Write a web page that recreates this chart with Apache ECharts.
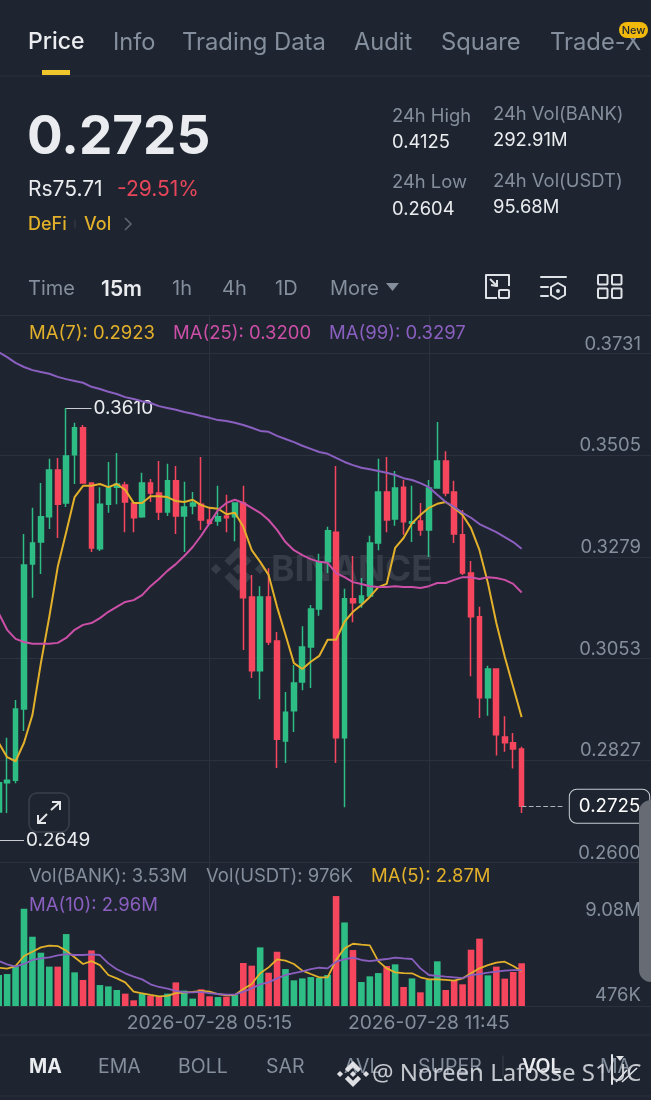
<!DOCTYPE html>
<html><head><meta charset="utf-8">
<style>html,body{margin:0;padding:0;background:#1e2530}#c{width:651px;height:1100px}</style>
<script src="https://cdn.jsdelivr.net/npm/echarts@6/dist/echarts.min.js"></script>
</head><body><div id="c"></div>
<script>
const times=["23:00","23:15","23:30","23:45","00:00","00:15","00:30","00:45","01:00","01:15","01:30","01:45","02:00","02:15","02:30","02:45","03:00","03:15","03:30","03:45","04:00","04:15","04:30","04:45","05:00","05:15","05:30","05:45","06:00","06:15","06:30","06:45","07:00","07:15","07:30","07:45","08:00","08:15","08:30","08:45","09:00","09:15","09:30","09:45","10:00","10:15","10:30","10:45","11:00","11:15","11:30","11:45","12:00","12:15","12:30","12:45","13:00","13:15","13:30","13:45","14:00","14:15","14:30","14:45","15:00","15:15","15:30","15:45","16:00","16:15","16:30","16:45","17:00","17:15","17:30","17:45","18:00","18:15","18:30"];
const opens=[.2712,.2777,.2783,.2941,.3263,.3312,.3368,.3472,.3399,.3506,.3566,.3443,.3297,.3396,.3434,.3439,.3399,.3368,.3443,.3421,.3379,.3448,.3370,.3392,.3396,.3361,.3359,.3370,.3368,.3399,.3190,.3026,.3190,.3092,.2870,.2937,.3001,.3079,.3163,.3268,.3334,.2877,.3186,.3177,.3192,.3310,.3423,.3363,.3434,.3354,.3359,.3339,.3432,.3492,.3423,.3328,.3243,.3146,.2966,.3030,.2879,.2866,.2852];
const closes=[.2777,.2783,.2941,.3261,.3310,.3368,.3472,.3396,.3503,.3566,.3443,.3299,.3396,.3434,.3441,.3401,.3366,.3443,.3421,.3379,.3448,.3370,.3390,.3399,.3361,.3354,.3368,.3366,.3399,.3188,.3026,.3190,.3090,.2874,.2934,.2999,.3079,.3163,.3268,.3337,.2877,.3186,.3177,.3192,.3310,.3423,.3361,.3432,.3357,.3357,.3339,.3432,.3492,.3421,.3330,.3243,.3146,.2966,.3030,.2884,.2866,.2852,.2725];
const lows=[.2706,.2710,.2776,.2892,.3188,.3241,.3341,.3321,.3390,.3441,.3443,.3290,.3292,.3377,.3396,.3334,.3334,.3366,.3401,.3361,.3370,.3330,.3290,.3374,.3339,.3350,.3348,.3334,.3314,.3072,.3010,.2963,.3083,.2810,.2821,.2890,.2983,.2988,.3148,.3243,.2821,.2723,.3134,.3166,.3190,.3294,.3334,.3348,.3328,.3312,.3326,.3279,.3432,.3414,.3310,.3239,.3014,.2921,.2926,.2838,.2846,.2809,.2710];
const highs=[.2783,.2877,.2961,.3330,.3388,.3443,.3497,.3499,.3610,.3577,.3572,.3443,.3434,.3490,.3510,.3446,.3401,.3466,.3452,.3492,.3486,.3481,.3446,.3423,.3501,.3388,.3437,.3417,.3399,.3437,.3239,.3214,.3254,.3112,.2979,.3039,.3125,.3172,.3286,.3346,.3481,.3208,.3281,.3232,.3326,.3497,.3501,.3470,.3450,.3437,.3399,.3450,.3579,.3514,.3448,.3383,.3270,.3168,.3037,.3030,.2925,.2888,.2857];
const ma7=[.2866,.2834,.2825,.2866,.2928,.3043,.3146,.3257,.3334,.3412,.3437,.3437,.3441,.3434,.3441,.3428,.3399,.3399,.3414,.3414,.3412,.3403,.3401,.3406,.3394,.3388,.3386,.3374,.3377,.3346,.3294,.3268,.3239,.3168,.3106,.3043,.3030,.3046,.3059,.3095,.3095,.3135,.3157,.3172,.3190,.3212,.3219,.3299,.3321,.3354,.3372,.3388,.3397,.3401,.3388,.3372,.3343,.3294,.3221,.3132,.3057,.2990,.2923];
const ma25=[.3154,.3117,.3097,.3090,.3086,.3086,.3086,.3088,.3099,.3117,.3128,.3132,.3143,.3157,.3168,.3179,.3183,.3194,.3214,.3230,.3248,.3263,.3281,.3301,.3326,.3354,.3383,.3399,.3406,.3399,.3388,.3377,.3361,.3339,.3312,.3294,.3283,.3274,.3268,.3266,.3243,.3234,.3223,.3219,.3214,.3212,.3212,.3214,.3212,.3212,.3210,.3214,.3221,.3221,.3228,.3234,.3234,.3230,.3234,.3232,.3228,.3219,.3200];
const ma99=[.3734,.3723,.3710,.3701,.3694,.3690,.3686,.3679,.3674,.3670,.3666,.3657,.3652,.3646,.3641,.3634,.3630,.3625,.3621,.3614,.3610,.3606,.3601,.3597,.3592,.3588,.3583,.3581,.3577,.3572,.3566,.3559,.3557,.3548,.3541,.3534,.3526,.3519,.3512,.3508,.3499,.3490,.3483,.3477,.3474,.3470,.3466,.3461,.3454,.3450,.3443,.3434,.3417,.3401,.3390,.3377,.3366,.3352,.3343,.3334,.3323,.3312,.3297];
const volumes=[2.56,2.64,3.25,8.03,5.72,4.40,3.25,3.25,5.94,2.78,2.15,4.59,1.73,1.62,1.32,1.02,.47,.99,.85,.77,1.02,1.95,1.27,.61,1.38,.80,.74,.77,.91,3.55,3.33,4.84,2.75,4.48,3.05,2.12,2.28,2.39,2.31,2.56,9.08,6.90,4.62,1.98,2.45,2.72,3.30,3.44,1.57,2.28,1.13,2.15,3.69,1.32,2.09,1.79,4.65,5.56,2.53,3.25,2.26,2.81,3.53];
const volMa5=[3.16,3.08,3.30,4.13,4.48,4.84,4.98,4.95,4.57,4.02,3.47,3.71,3.38,2.56,2.28,1.95,1.18,1.05,.91,.80,.83,1.07,1.10,1.16,1.24,1.18,.99,.88,.91,1.40,1.82,2.70,3.19,3.85,3.74,3.47,2.92,2.64,2.37,2.37,3.80,4.76,5.14,5.06,5.01,3.71,3.11,2.78,2.72,2.70,2.37,2.20,2.20,2.15,2.09,2.28,2.70,3.11,3.38,3.58,3.66,3.30,2.87];
const volMa10=[3.71,3.44,3.25,3.47,3.80,3.93,4.02,4.18,4.29,4.21,4.21,4.26,4.21,3.52,3.03,2.70,2.42,2.20,1.79,1.57,1.43,1.24,1.13,1.13,1.16,1.07,.99,.94,.94,1.18,1.46,1.79,1.95,2.28,2.56,2.72,2.86,3.05,3.16,3.11,3.66,3.85,3.99,3.80,3.71,3.80,3.88,3.99,3.93,3.88,3.11,2.56,2.48,2.42,2.37,2.31,2.56,2.64,2.75,2.83,2.92,2.97,2.96];
const priceTicks=[0.2600,0.2827,0.3053,0.3279,0.3505,0.3731];
const timeTickIdx=[25,51];
const lastPrice=0.2725, visHigh=0.3610, visLow=0.2649;

const BG='#1e2530',GRID='#2c323d',GRAY='#848e9c',WHITE='#eaecef',YEL='#e2b02a',PINK='#cb4fa6',PUR='#8a5fbf',GREEN='#2ebd85',RED='#f6465d';
const FF='Inter, "Noto Sans", sans-serif';
const g=[];
function T(text,x,y,size,fill,weight,align,z,family,opacity){g.push({type:'text',z:z||10,silent:true,style:{text,x,y:y+size*0.06,fill,font:(weight||400)+' '+size+'px '+(family||FF),textAlign:align||'left',textVerticalAlign:'middle',align:align||'left',verticalAlign:'middle',opacity:opacity==null?1:opacity}});}
function L(x1,y1,x2,y2,stroke,w,z){g.push({type:'line',z:z||10,silent:true,shape:{x1,y1,x2,y2},style:{stroke,lineWidth:w||1,lineCap:'round',fill:null}});}
function R(x,y,width,height,r,style,z){g.push({type:'rect',z:z||10,silent:true,shape:{x,y,width,height,r},style});}
function P(points,style,z,closed){g.push({type:closed===false?'polyline':'polygon',z:z||10,silent:true,shape:{points},style});}
function logo(cx,cy,s,fill,z,op){
 const d=(x,y,r)=>P([[cx+x,cy+y-r],[cx+x+r,cy+y],[cx+x,cy+y+r],[cx+x-r,cy+y]],{fill,opacity:op},z);
 d(-s,0,.24*s);d(s,0,.24*s);d(0,0,.24*s);
 P([[cx,cy-s],[cx+.62*s,cy-.38*s],[cx+.38*s,cy-.14*s],[cx,cy-.52*s],[cx-.38*s,cy-.14*s],[cx-.62*s,cy-.38*s]],{fill,opacity:op},z);
 P([[cx,cy+s],[cx+.62*s,cy+.38*s],[cx+.38*s,cy+.14*s],[cx,cy+.52*s],[cx-.38*s,cy+.14*s],[cx-.62*s,cy+.38*s]],{fill,opacity:op},z);
}
// top tabs
T('Price',28,41,23,WHITE,500);T('Info',113,41,23.6,GRAY);T('Trading Data',182,41,23.8,GRAY);T('Audit',354,41,23.6,GRAY);T('Square',441,41,23.8,GRAY);T('Trade-X',550,41,23.8,GRAY);
R(619,22,29,16,8,{fill:'#f0b90b'});T('New',633.5,30,11,'#1e2530',500,'center');
R(42,70,28,5,0,{fill:'#f0c62d'});L(0,76,651,76,GRID,1);
// price block
T('0.2725',27,135,53,WHITE,700);T('Rs75.71',28,188,21,WHITE);T('-29.51%',117,188,21,'#e8465a');
T('DeFi',28,224,18,YEL,500);L(75,220,75,228,'#3a404b',1);T('Vol',84,224,18,YEL,500);
P([[125,218],[131,224],[125,230]],{stroke:'#5f6875',lineWidth:1.5,fill:null},10,false);
T('24h High',392,115,18.4,GRAY);T('0.4125',392,141,18.4,WHITE);T('24h Low',392,181,18.4,GRAY);T('0.2604',392,208,18.4,WHITE);
T('24h Vol(BANK)',493,113,18.4,GRAY);T('292.91M',493,139,18.4,WHITE);T('24h Vol(USDT)',493,180,18.4,GRAY);T('95.68M',493,206,18.4,WHITE);
// interval row
T('Time',28,288,20,GRAY);T('15m',101,288,21,WHITE,600);T('1h',172,288,20,GRAY);T('4h',222,288,20,GRAY);T('1D',275,288,20,GRAY);T('More',330,288,20,GRAY);
P([[386,283],[399,283],[392.5,291]],{fill:GRAY});
const ic={stroke:'#dfe2e6',lineWidth:2,fill:null,lineJoin:'round'};
P([[497,298],[486,298],[486,275],[509,275],[509,286]],ic,10,false);R(499,290,10,8,1,ic);P([[490,279],[497,286]],ic,10,false);P([[491,285],[497,286],[497,280]],ic,10,false);
L(541,277,566,277,'#dfe2e6',2);L(541,287,548,287,'#dfe2e6',2);L(541,296,548,296,'#dfe2e6',2);
P([[558,283],[565,287],[565,295],[558,299],[551,295],[551,287]],ic);g.push({type:'circle',z:10,silent:true,shape:{cx:558,cy:291,r:2},style:{fill:'#dfe2e6'}});
R(598,275,9.5,9.5,1,ic);R(612,275,9.5,9.5,1,ic);R(598,288.5,9.5,9.5,1,ic);R(612,288.5,9.5,9.5,1,ic);
L(0,315.5,651,315.5,GRID,1);
// legends
T('MA(7): 0.2923',29,332,18.5,YEL);T('MA(25): 0.3200',173,332,18.5,PINK);T('MA(99): 0.3297',329,332,18.5,PUR);
T('Vol(BANK): 3.53M',29,875,18.5,GRAY);T('Vol(USDT): 976K',206,875,18.5,GRAY);T('MA(5): 2.87M',371,875,18.5,YEL);T('MA(10): 2.96M',29,904,18.5,PUR);
T('9.08M',641,909,18.5,GRAY,400,'right');T('476K',641,994,18.5,GRAY,400,'right');
// watermark in chart
logo(238,569,22,'#363c48',1,1);T('BINANCE',271,568,35.5,'#363c48',700,'left',1,FF);
// expand button
R(29,793,40,39,8,{fill:BG,stroke:'#3a404b',lineWidth:1.5},6);
const ar={stroke:'#e4e6ea',lineWidth:2,fill:null};
P([[38,823],[47,814]],ar,7,false);P([[38,815],[38,823],[46,823]],ar,7,false);P([[51,810],[60,802]],ar,7,false);P([[52,802],[60,802],[60,810]],ar,7,false);
// scroll panel
R(639,800,14,182,[12,0,0,12],{fill:'#676c74'},12);
// bottom tabs
L(0,1035,651,1035,GRID,1);L(0,1096,651,1096,GRID,1);
T('MA',29,1066,19.5,WHITE,700);T('EMA',98,1066,19.5,GRAY);T('BOLL',178,1066,19.5,GRAY);T('SAR',266,1066,19.5,GRAY);T('AVL',344,1066,19.5,GRAY);T('SUPER',418,1066,19.5,GRAY);
L(503,1056,503,1076,'#3a404b',1);T('VOL',522,1066,19.5,WHITE,600);T('MA',600,1066,19.5,GRAY);
L(612,1055,612,1084,'#e4e6ea',2,11);P([[616,1056],[624,1056],[620,1061]],{fill:'#e4e6ea'},11);P([[616,1082],[627,1070]],{stroke:'#e4e6ea',lineWidth:1.5,fill:null},11,false);P([[622,1082],[637,1068]],{stroke:'#e4e6ea',lineWidth:1.5,fill:null},11,false);
logo(353,1074,13,'#e8e9ec',13,.95);
T('@ Noreen Lafosse S1UC',372,1073,24,'#dcdee2',400,'left',13,'"Noto Sans"',.88);

const candles=opens.map((o,i)=>[o,closes[i],lows[i],highs[i]]);
const line=(name,data,color,xi,yi,w)=>({name,type:'line',data,xAxisIndex:xi,yAxisIndex:yi,symbol:'none',smooth:false,z:5,silent:true,lineStyle:{color,width:w},itemStyle:{color}});
const segLabel={show:true,position:'end',distance:2,color:WHITE,fontSize:19,fontFamily:FF,formatter:p=>p.data.text};
const xBase={type:'category',data:times,boundaryGap:false,containShape:false,axisTick:{show:false},
 splitLine:{show:true,interval:i=>timeTickIdx.includes(i),lineStyle:{color:GRID,width:1}}};
const opt={
 backgroundColor:BG,animation:false,graphic:g,
 grid:[{left:-1.3,width:657.9,top:316,height:546.5,outerBoundsMode:'none'},{left:-1.3,width:657.9,top:862.5,height:143.5,outerBoundsMode:'none'}],
 xAxis:[Object.assign({},xBase,{gridIndex:0,axisLine:{show:false},axisLabel:{show:false}}),
  Object.assign({},xBase,{gridIndex:1,axisLine:{show:true,lineStyle:{color:GRID,width:1}},
   axisLabel:{show:true,interval:i=>timeTickIdx.includes(i),color:GRAY,fontSize:19.3,fontFamily:FF,margin:8,formatter:v=>'2026-07-28 '+v}})],
 yAxis:[{gridIndex:0,type:'value',position:'right',min:0.26,max:0.38143,scale:true,axisLine:{show:false},
   axisTick:{show:false,customValues:priceTicks},splitLine:{show:true,lineStyle:{color:GRID,width:1}},
   axisLabel:{inside:true,customValues:priceTicks,margin:15.6,align:'right',verticalAlign:'bottom',color:GRAY,fontSize:18.5,fontFamily:FF,formatter:v=>v.toFixed(4)}},
  {gridIndex:1,type:'value',min:0,max:11.85,axisLine:{show:false},axisTick:{show:false},axisLabel:{show:false},splitLine:{show:false}}],
 series:[
  {name:'Candles',type:'candlestick',data:candles,xAxisIndex:0,yAxisIndex:0,barWidth:5.2,z:3,silent:true,
   itemStyle:{color:GREEN,color0:RED,borderColor:GREEN,borderColor0:RED,borderWidth:1.5},
   markLine:{silent:true,symbol:'none',animation:false,precision:4,
    data:[
     [{coord:[8,visHigh],text:visHigh.toFixed(4),lineStyle:{color:'#c8ccd2',width:1,type:'solid'},label:segLabel},{coord:[11,visHigh]}],
     [{coord:[0,visLow],text:visLow.toFixed(4),lineStyle:{color:'#c8ccd2',width:1,type:'solid'},label:segLabel},{coord:[3,visLow]}],
     [{coord:[62,lastPrice],text:lastPrice.toFixed(4),lineStyle:{color:'#aeb2b9',width:1.2,type:'dashed'},
       label:{show:true,position:'end',distance:6,color:'#ffffff',fontSize:18.7,fontFamily:FF,backgroundColor:BG,borderColor:'#c8ccd2',borderWidth:1,borderRadius:7,padding:[7,9,7,9],formatter:p=>p.data.text}},{coord:[67,lastPrice]}]
    ]}},
  line('MA7',ma7,YEL,0,0,2),line('MA25',ma25,PINK,0,0,2),line('MA99',ma99,PUR,0,0,2),
  {name:'Volume',type:'bar',data:volumes,xAxisIndex:1,yAxisIndex:1,barWidth:6.6,z:3,silent:true,
   itemStyle:{color:p=>closes[p.dataIndex]>=opens[p.dataIndex]?GREEN:RED}},
  line('VolMA5',volMa5,YEL,1,1,1.8),line('VolMA10',volMa10,PUR,1,1,1.8)
 ]
};
const chart=echarts.init(document.getElementById('c'),null,{renderer:'canvas',width:651,height:1100});
chart.setOption(opt);
</script></body></html>
